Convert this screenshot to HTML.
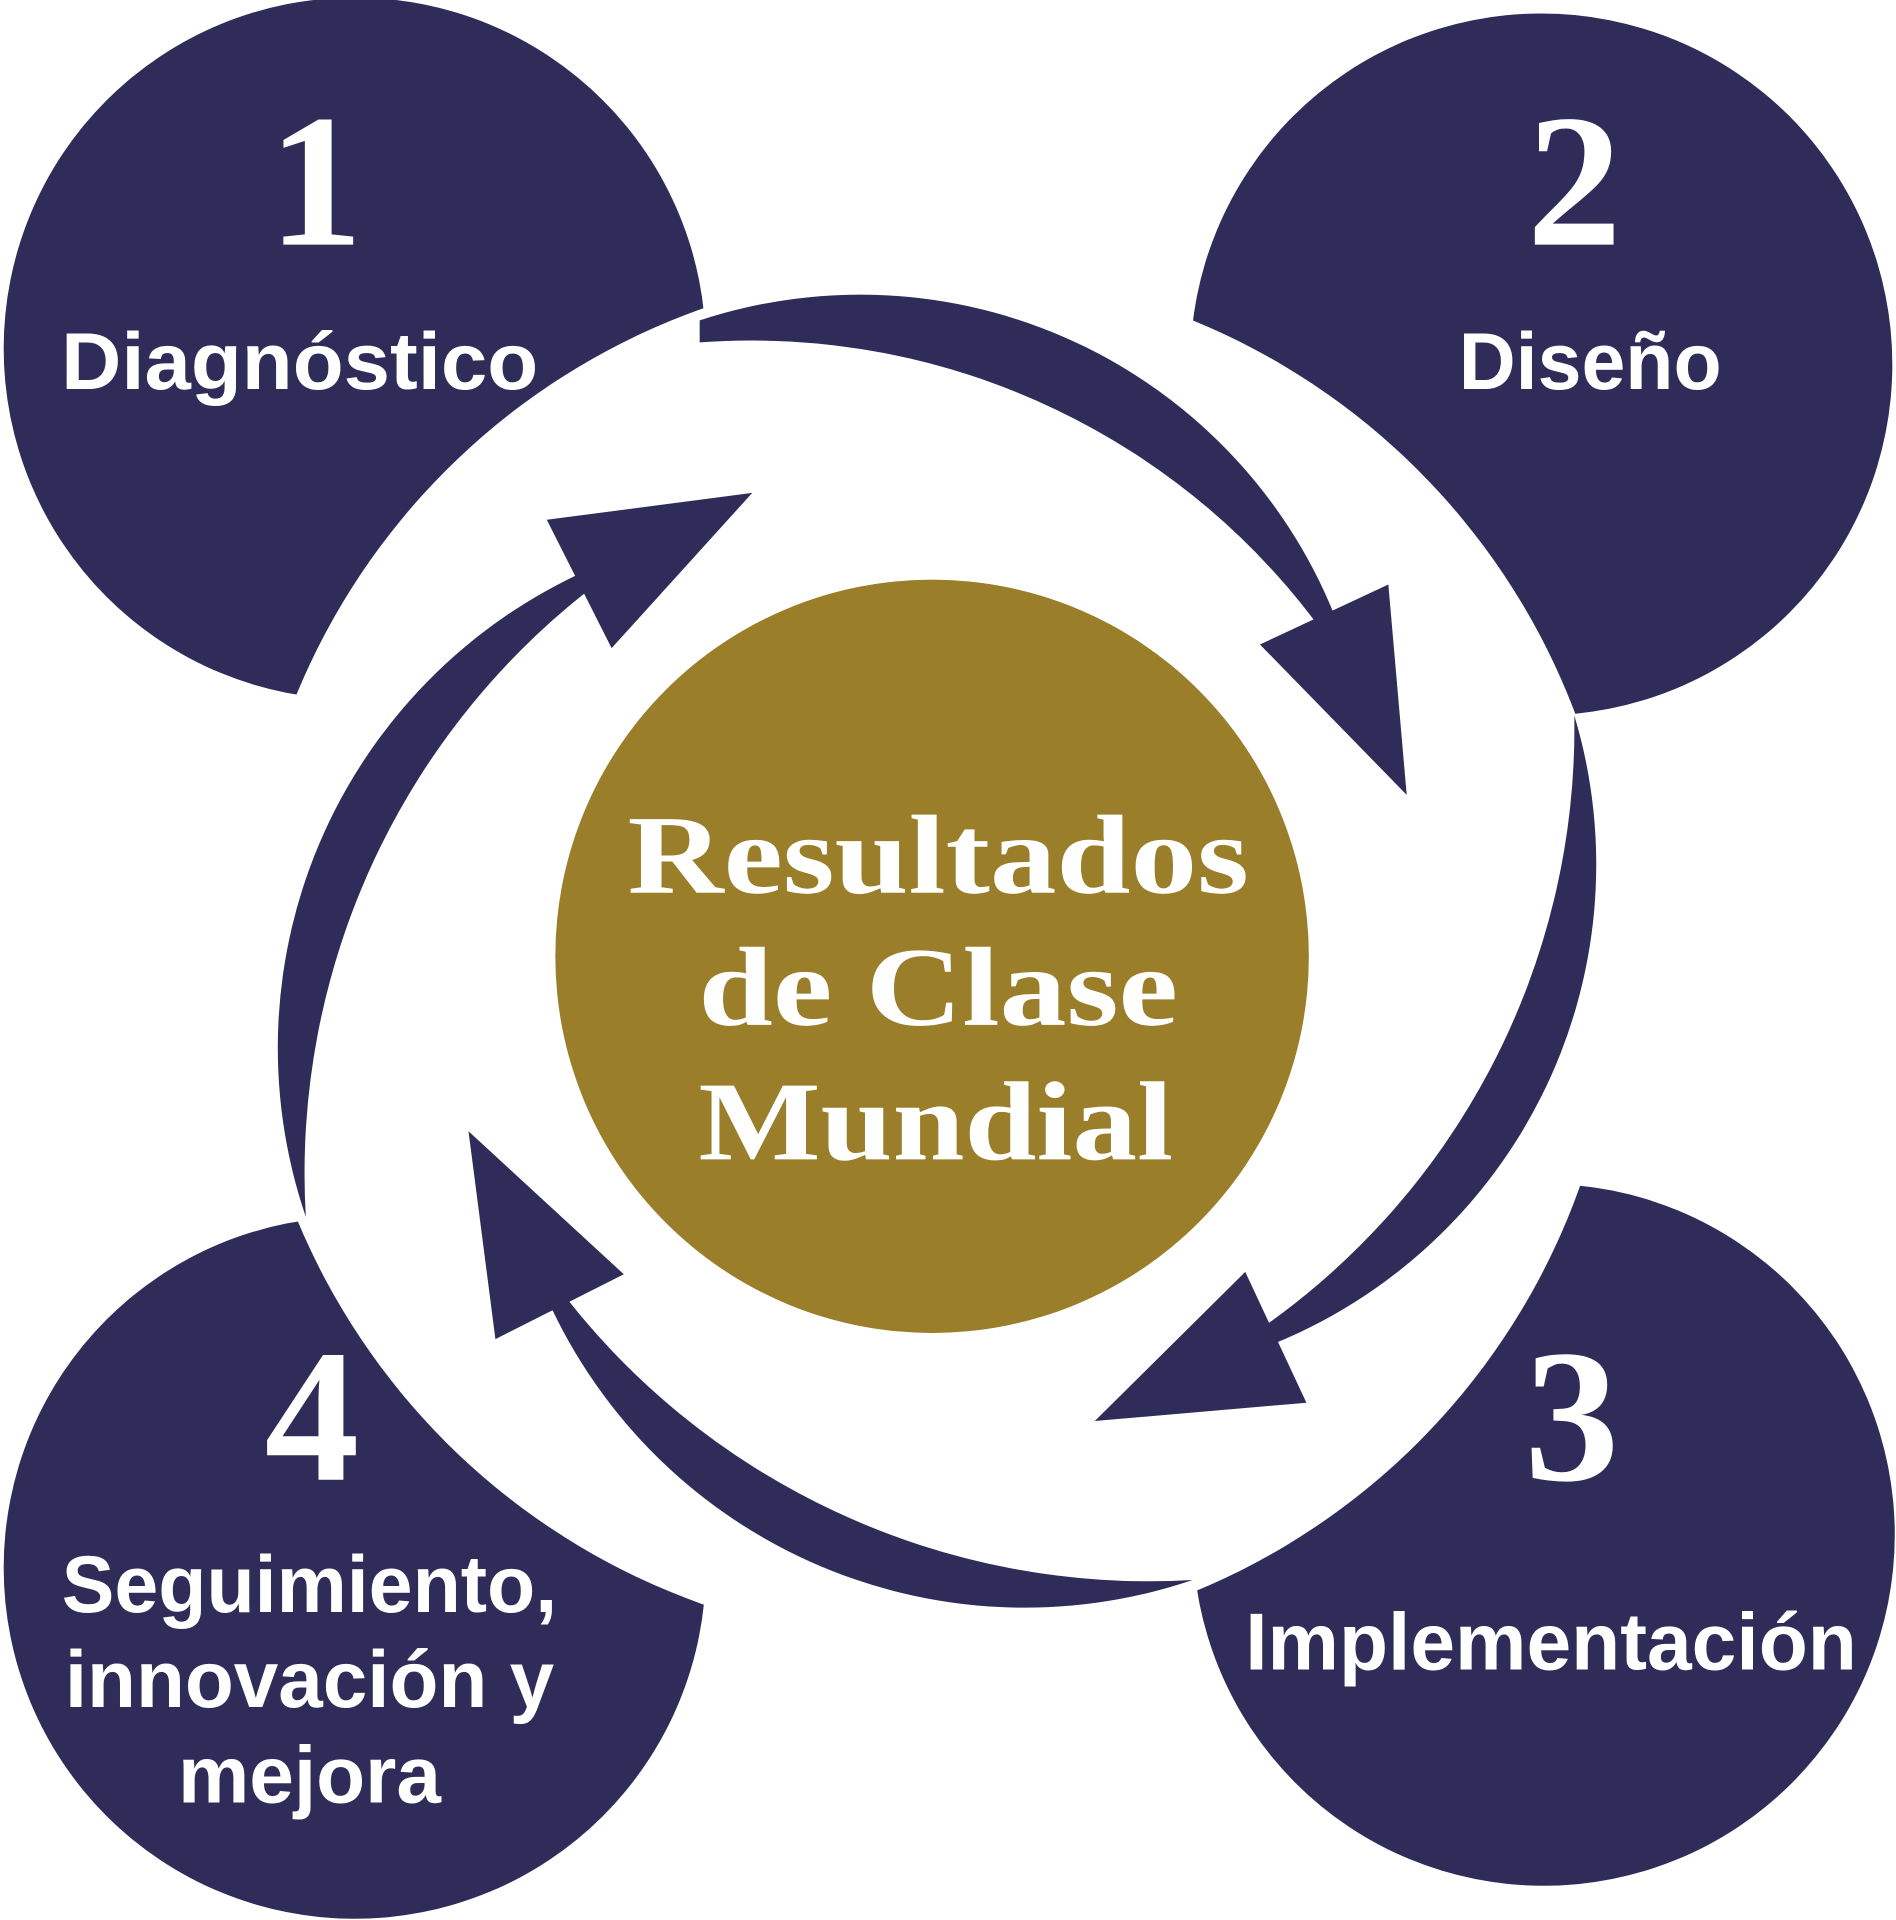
<!DOCTYPE html>
<html><head><meta charset="utf-8"><style>
html,body{margin:0;padding:0;background:#fff;}
svg{display:block;}
</style></head><body>
<svg width="1896" height="1920" viewBox="0 0 1550 1570" preserveAspectRatio="none" xmlns="http://www.w3.org/2000/svg">
<g fill="#302c5a">
<circle cx="290" cy="285" r="287"/>
<circle cx="1260" cy="298" r="287"/>
<circle cx="1262" cy="1255" r="287"/>
<circle cx="290" cy="1282" r="287"/>
</g>
<circle cx="762" cy="782" r="562" fill="#fff"/>
<circle cx="762" cy="782" r="308" fill="#9a7e2a"/>
<g fill="#302c5a">
<path d="M572,262 A418,418 0 0 1 1098,522 L1088,526 A577,577 0 0 0 572,280 Z"/>
<polygon points="1030,527 1135,478 1150,650"/>
<path d="M1287,585 A423,423 0 0 1 1025,1105 L1018,1095 A598,598 0 0 0 1287,585 Z"/>
<polygon points="1018,1040 1068,1147 895,1162"/>
<path d="M975,1292 A428,428 0 0 1 443,1052 L452,1047 A606,606 0 0 0 975,1292 Z"/>
<polygon points="510,1042 405,1095 383,925"/>
<path d="M250,995 A428,428 0 0 1 490,462 L495,472 A606,606 0 0 0 250,995 Z"/>
<polygon points="447,425 615,403 500,530"/>
</g>
<g fill="#fff" font-family="'Liberation Serif', serif" font-weight="bold" text-anchor="middle">
<text x="258" y="200" font-size="155">1</text>
<text x="1287" y="200" font-size="155">2</text>
<text x="1285" y="1210" font-size="155">3</text>
<text x="255" y="1210" font-size="155">4</text>
</g>
<g fill="#fff" font-family="'Liberation Sans', sans-serif" font-weight="bold" text-anchor="middle" font-size="66">
<text x="245" y="318" textLength="390" lengthAdjust="spacingAndGlyphs">Diagnóstico</text>
<text x="1300" y="318" textLength="215" lengthAdjust="spacingAndGlyphs">Diseño</text>
<text x="1268" y="1365" textLength="500" lengthAdjust="spacingAndGlyphs">Implementación</text>
<text x="253" y="1318" textLength="405" lengthAdjust="spacingAndGlyphs">Seguimiento,</text>
<text x="253" y="1396" textLength="400" lengthAdjust="spacingAndGlyphs">innovación y</text>
<text x="253" y="1474" textLength="215" lengthAdjust="spacingAndGlyphs">mejora</text>
</g>
<g fill="#fff" font-family="'Liberation Serif', serif" font-weight="bold" text-anchor="middle" font-size="92">
<text x="767" y="730" textLength="508" lengthAdjust="spacingAndGlyphs">Resultados</text>
<text x="767" y="838" textLength="392" lengthAdjust="spacingAndGlyphs">de Clase</text>
<text x="765" y="948" textLength="388" lengthAdjust="spacingAndGlyphs">Mundial</text>
</g>
</svg>
</body></html>
